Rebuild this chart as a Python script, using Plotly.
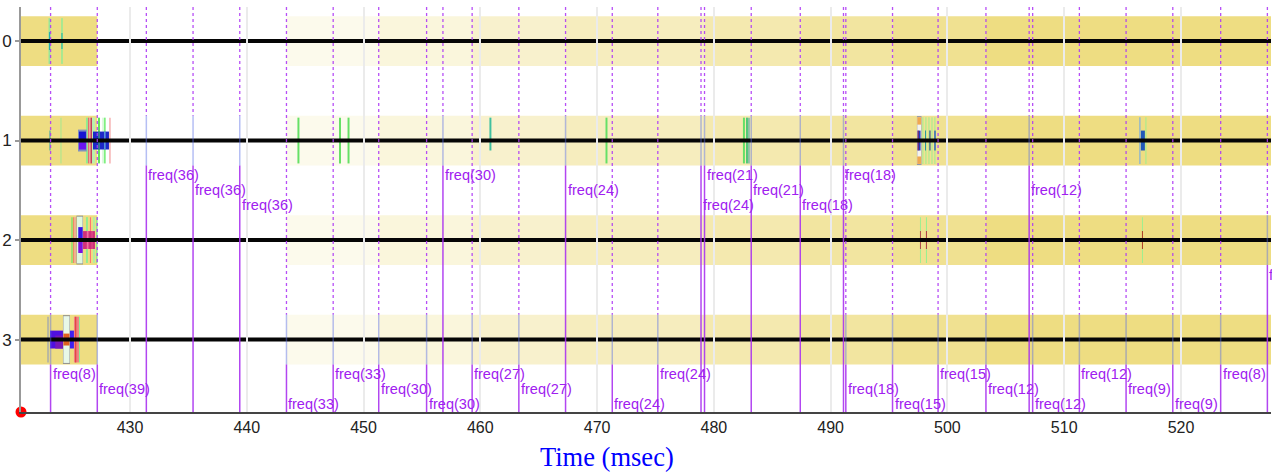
import plotly.graph_objects as go

# ---------------- data ----------------
rows = [0, 1, 2, 3]
x_ticks = [430, 440, 450, 460, 470, 480, 490, 500, 510, 520]

# background band segments (time in ms) and their strength
band_t0 = [419.0, 443.4, 451.3, 459.3, 467.3, 479.2, 487.4, 495.3, 503.3]
band_t1 = [427.2, 451.3, 459.3, 467.3, 479.2, 487.4, 495.3, 503.3, 528.0]
band_alpha = [1.0, 0.15, 0.28, 0.40, 0.52, 0.64, 0.76, 0.88, 1.0]

# stimulus events: time, channel row, frequency label
ev_t = [423.2, 427.2, 431.4, 435.4, 439.4, 443.4, 447.4, 451.3, 455.4, 456.8,
        459.3, 463.3, 467.3, 471.3, 475.2, 478.9, 479.2, 483.2, 487.4, 491.1,
        491.3, 495.3, 499.2, 503.3, 507.0, 507.3, 511.3, 515.3, 519.3, 523.4, 527.4]
ev_row = [3, 3, 1, 1, 1, 3, 3, 3, 3, 1,
          3, 3, 1, 3, 3, 1, 1, 1, 1, 1,
          3, 3, 3, 3, 1, 3, 3, 3, 3, 3, 2]
ev_freq = [8, 39, 36, 36, 36, 33, 33, 30, 30, 30,
           27, 27, 24, 24, 24, 24, 21, 21, 18, 18,
           18, 15, 15, 12, 12, 12, 12, 9, 9, 8, 8]

# spike marks: row, start/end time (ms), low/high offset from row centre, colour
spk_row = []
spk_t0 = []
spk_t1 = []
spk_lo = []
spk_hi = []
spk_col = []


def spk(r, a, b, lo, hi, c):
    spk_row.append(r); spk_t0.append(a); spk_t1.append(b)
    spk_lo.append(lo); spk_hi.append(hi); spk_col.append(c)


# row 0
spk(0, 423.02, 423.19, -0.23, 0.23, '#98E898')
spk(0, 423.06, 423.17, -0.09, 0.09, '#20B0B0')
spk(0, 424.09, 424.26, -0.23, 0.23, '#A8E890')
spk(0, 424.13, 424.22, -0.08, 0.08, '#20B0A0')
# row 1 early cluster
spk(1, 423.11, 423.19, -0.10, 0.10, '#20A0B0')
spk(1, 424.05, 424.13, -0.23, 0.23, '#A0E890')
spk(1, 426.23, 426.40, -0.23, 0.23, '#90EE90')
spk(1, 426.40, 426.50, -0.23, 0.23, '#E07070')
spk(1, 426.50, 426.62, -0.23, 0.23, '#F0A0A0')
spk(1, 426.62, 426.75, -0.23, 0.23, '#C04060')
spk(1, 426.75, 427.00, -0.23, 0.23, '#B8F0B0')
spk(1, 427.26, 427.43, -0.23, 0.23, '#60E060')
spk(1, 427.60, 427.70, -0.23, 0.23, '#E0F8E0')
spk(1, 427.75, 427.92, -0.23, 0.23, '#80F080')
spk(1, 428.24, 428.33, -0.23, 0.23, '#F09090')
spk(1, 425.55, 426.30, -0.11, 0.11, '#8090C0')
spk(1, 425.63, 426.23, -0.09, 0.02, '#1414D2')
spk(1, 425.63, 426.23, 0.02, 0.09, '#6A14F0')
spk(1, 426.83, 428.20, -0.09, 0.09, '#1E28C8')
spk(1, 427.30, 427.40, -0.09, 0.09, '#40B070')
spk(1, 427.80, 427.90, -0.09, 0.09, '#70C0E0')
# row 2 early cluster
spk(2, 424.95, 425.12, -0.23, 0.23, '#A0E070')
spk(2, 425.12, 425.20, -0.23, 0.23, '#F08060')
spk(2, 425.20, 425.38, -0.23, 0.23, '#F0B090')
spk(2, 425.42, 425.98, -0.245, 0.245, '#909090')
spk(2, 425.46, 425.94, -0.235, 0.235, '#E0F8E0')
spk(2, 426.23, 426.40, -0.23, 0.23, '#90EE90')
spk(2, 426.57, 426.66, -0.23, 0.23, '#FF7070')
spk(2, 426.83, 427.00, -0.23, 0.23, '#B0F0A0')
spk(2, 427.09, 427.22, -0.23, 0.23, '#90E890')
spk(2, 425.57, 425.95, -0.13, 0.0, '#3A14E8')
spk(2, 425.57, 425.95, 0.0, 0.13, '#7A10E0')
spk(2, 425.98, 427.00, -0.09, 0.09, '#D0307A')
spk(2, 426.30, 426.45, -0.09, 0.09, '#F070A0')
spk(2, 426.70, 426.80, -0.09, 0.09, '#E0508A')
# row 3 early cluster
spk(3, 422.94, 423.02, -0.23, 0.23, '#8090C0')
spk(3, 424.26, 424.86, -0.245, 0.245, '#909090')
spk(3, 424.30, 424.82, -0.235, 0.235, '#E8F8E8')
spk(3, 425.20, 425.63, -0.23, 0.23, '#F08080')
spk(3, 425.30, 425.40, -0.23, 0.23, '#E04040')
spk(3, 425.63, 425.72, -0.23, 0.23, '#90EE90')
spk(3, 423.15, 424.26, -0.09, 0.09, '#5010E0')
spk(3, 423.60, 424.26, -0.04, 0.09, '#7818B8')
spk(3, 424.30, 424.82, -0.06, 0.06, '#E06020')
spk(3, 424.86, 425.20, -0.09, 0.09, '#4020F0')
# row 1 scattered green marks
spk(1, 444.34, 444.51, -0.23, 0.23, '#66E066')
spk(1, 447.90, 448.07, -0.23, 0.23, '#66E066')
spk(1, 448.63, 448.80, -0.23, 0.23, '#66E066')
spk(1, 460.78, 460.95, -0.23, 0.10, '#40C0A0')
spk(1, 470.72, 470.89, -0.23, 0.23, '#66E066')
spk(1, 482.49, 482.66, -0.23, 0.23, '#66E066')
spk(1, 482.75, 482.92, -0.23, 0.23, '#50C878')
spk(1, 482.96, 483.05, -0.23, 0.23, '#40A0A0')
# row 1 mid cluster
spk(1, 497.39, 497.78, -0.245, 0.245, '#8890B0')
spk(1, 497.42, 497.75, -0.235, 0.235, '#F6F4EC')
spk(1, 497.42, 497.75, -0.235, -0.16, '#F0A850')
spk(1, 497.42, 497.75, 0.16, 0.235, '#F0A850')
spk(1, 497.44, 497.70, -0.10, 0.10, '#1E3CC0')
spk(1, 497.46, 497.52, -0.10, 0.10, '#D02020')
spk(1, 497.86, 497.94, -0.235, 0.235, '#98F090')
spk(1, 498.12, 498.20, -0.235, 0.235, '#98F090')
spk(1, 498.38, 498.46, -0.235, 0.235, '#98F090')
spk(1, 498.64, 498.72, -0.235, 0.235, '#98F090')
spk(1, 498.89, 498.97, -0.235, 0.235, '#98F090')
spk(1, 498.08, 498.16, -0.10, 0.10, '#2090A0')
spk(1, 498.46, 498.55, -0.10, 0.10, '#183C90')
spk(1, 498.85, 499.02, -0.10, 0.10, '#5080B0')
spk(1, 516.44, 516.53, -0.235, 0.235, '#70A8E8')
spk(1, 516.96, 517.04, -0.235, 0.235, '#98F090')
spk(1, 516.57, 516.91, -0.10, 0.10, '#2058B8')
# row 2 mid marks
spk(2, 497.65, 497.73, -0.23, 0.23, '#98F090')
spk(2, 497.65, 497.73, -0.09, 0.09, '#B04048')
spk(2, 498.16, 498.25, -0.23, 0.23, '#98F090')
spk(2, 498.16, 498.25, -0.09, 0.09, '#B04048')
spk(2, 516.66, 516.74, -0.23, 0.23, '#98F090')
spk(2, 516.66, 516.74, -0.09, 0.09, '#B03020')

# ---------------- layout constants ----------------
X_MIN, X_MAX = 420.667, 527.71
Y_TOP, Y_BOT = -0.342, 3.728
HALF = 0.25
PURPLE = '#A020F0'
SANS = 'Liberation Sans, Arial, sans-serif'

shapes = []
# bands
for r in rows:
    for a, b, al in zip(band_t0, band_t1, band_alpha):
        shapes.append(dict(type='rect', xref='x', yref='y', x0=a, x1=b,
                           y0=r - HALF, y1=r + HALF, layer='below',
                           fillcolor=f'rgba(238,221,130,{al})', line=dict(width=0)))
# spikes
for r, a, b, lo, hi, c in zip(spk_row, spk_t0, spk_t1, spk_lo, spk_hi, spk_col):
    shapes.append(dict(type='rect', xref='x', yref='y', x0=a, x1=b,
                       y0=r + lo, y1=r + hi, layer='below',
                       fillcolor=c, line=dict(width=0)))
# channel lines
for r in rows:
    shapes.append(dict(type='line', xref='x', yref='y', x0=X_MIN, x1=X_MAX,
                       y0=r, y1=r, layer='below', line=dict(color='#050505', width=4)))
# event lines
for t, r in zip(ev_t, ev_row):
    shapes.append(dict(type='line', xref='x', yref='y', x0=t, x1=t,
                       y0=Y_TOP, y1=r - HALF, layer='below',
                       line=dict(color='rgba(175,60,245,0.9)', width=1.3, dash='dot')))
    shapes.append(dict(type='line', xref='x', yref='y', x0=t, x1=t,
                       y0=r - HALF, y1=r + HALF, layer='below',
                       line=dict(color='rgba(90,110,230,0.45)', width=1.5)))
    shapes.append(dict(type='line', xref='x', yref='y', x0=t, x1=t,
                       y0=r + HALF, y1=Y_BOT, layer='below',
                       line=dict(color='rgba(170,50,240,0.9)', width=1.5)))

annotations = []
counter = {}
for t, r, f in zip(ev_t, ev_row, ev_freq):
    k = counter.get(r, 0)
    counter[r] = k + 1
    lvl = k % 3
    annotations.append(dict(x=t, y=r + 0.35 + 0.15 * lvl, xref='x', yref='y',
                            text=f'freq({f})', showarrow=False, xanchor='left',
                            yanchor='middle', xshift=0,
                            font=dict(family=SANS, size=14.5, color=PURPLE)))

annotations.append(dict(x=0.4688, y=-0.112, xref='paper', yref='paper',
                        text='Time (msec)', showarrow=False, xanchor='center',
                        yanchor='middle',
                        font=dict(family='Liberation Serif, Times New Roman, serif',
                                  size=26.5, color='blue')))

fig = go.Figure()
fig.add_trace(go.Scatter(x=[X_MIN], y=[Y_BOT], mode='markers',
                         marker=dict(color='red', size=11), cliponaxis=False,
                         hoverinfo='skip', showlegend=False))

fig.update_layout(
    width=1272, height=473,
    margin=dict(l=21, r=1, t=7, b=61),
    paper_bgcolor='white', plot_bgcolor='white',
    showlegend=False,
    shapes=shapes, annotations=annotations,
    xaxis=dict(range=[X_MIN, X_MAX], tickvals=x_ticks, showgrid=True,
               gridcolor='#ebebeb', gridwidth=2, zeroline=False,
               showline=True, linecolor='#444444', linewidth=1.5, ticks='',
               tickfont=dict(family=SANS, size=16, color='#222222')),
    yaxis=dict(range=[Y_BOT, Y_TOP], tickvals=rows, showgrid=False, zeroline=False,
               showline=True, linecolor='#999999', linewidth=2,
               ticks='outside', ticklen=4, tickcolor='#999999', tickwidth=1.5,
               tickfont=dict(family=SANS, size=17, color='#222222')),
)

fig.write_html('out.html')
